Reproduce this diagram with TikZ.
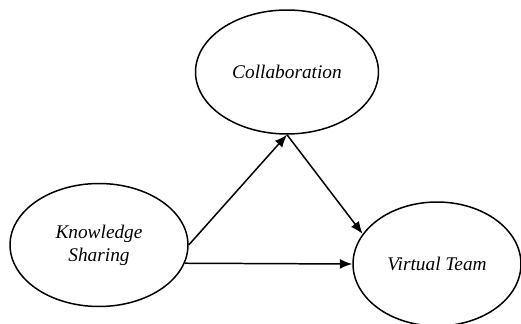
\documentclass[tikz,border=0pt]{standalone}
\usepackage{fontspec}
\setmainfont{Liberation Serif}
\usetikzlibrary{shapes.geometric}
\usetikzlibrary{arrows.meta}

\begin{document}
\begin{tikzpicture}[x=0.02cm, y=-0.02cm, line width=0.85pt,
	construct/.style={draw, ellipse, inner sep=0pt, align=center,
		font=\fontsize{11}{13}\selectfont\itshape},
	path/.style={-{Latex[length=2.5mm, width=2mm]}}]
	\useasboundingbox (0,0) rectangle (521,324);
	%\draw[step=10, line width=0.1pt, black!20!white] (0,0) grid (521,324);
	\node[construct, minimum width=3.66cm, minimum height=2.48cm] (collab) at (287,72) {Collaboration};
	\node[construct, minimum width=3.56cm, minimum height=2.46cm] (ks) at (99,245) {Knowledge\\Sharing};
	\node[construct, minimum width=3.36cm, minimum height=2.48cm] (vt) at (437,264) {Virtual Team};
	\draw[path] (ks.east) -- (collab.south);
	\draw[path] (collab.south) -- (vt.158);
	\draw[path] (ks.-12) -- (vt.west);
\end{tikzpicture}
\end{document}
